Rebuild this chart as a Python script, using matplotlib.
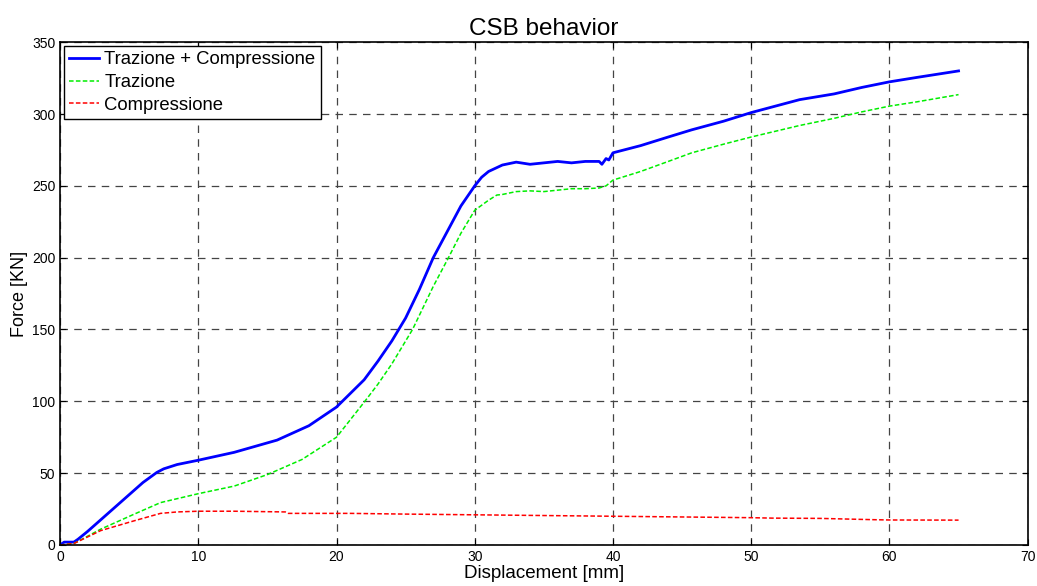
import numpy as np
import matplotlib.pyplot as plt

plt.rcParams['font.family'] = ['Liberation Sans', 'DejaVu Sans']

# Trazione + Compressione (blu)
x_tc = [0, 0.3, 1.0, 1.3, 2.0, 3.0, 4.0, 5.0, 6.0, 7.0, 7.5, 8.47, 10, 12.6, 15.7, 18, 20,
        22, 23, 24, 25, 26, 27, 28, 29, 30, 30.5, 31, 32, 33, 34, 35, 36, 37, 38, 39,
        39.2, 39.5, 39.7, 40, 42, 44, 45.7, 48, 50, 53.5, 56, 58, 60, 62, 64, 65]
y_tc = [0, 2, 2, 4, 9.5, 18, 26.5, 35, 43.5, 50.5, 53, 56, 59, 64.5, 73, 83, 96,
        115, 128, 142, 158, 178, 200, 218, 236, 250, 256, 260, 264.5, 266.5, 265, 266, 267, 266, 267, 267,
        265, 269, 268, 273, 278, 284, 289, 295, 301, 310, 314, 318.5, 322.4, 325.5, 328.5, 330]

# Trazione (verde)
x_t = [0, 1.0, 2.94, 5.35, 7.27, 10, 12.6, 15.0, 17.5, 20, 22.05, 23, 24, 25, 25.5, 26, 27,
       28.1, 29, 30, 31, 31.6, 32, 33, 34, 35, 36, 37, 38, 39, 39.5, 40, 42, 44, 45.7,
       48, 50, 53.5, 56, 58, 60, 62, 65]
y_t = [0, 1, 11, 21.4, 29.5, 35.7, 41, 49, 59.5, 75, 100, 112, 126, 142, 150, 160, 180,
       200, 217, 233, 240, 243.6, 244, 246, 246.5, 246, 247, 248, 248, 248.5, 250, 254, 260, 267, 273,
       279, 284, 292, 297, 301.5, 305.5, 308.5, 313.5]

# Compressione (rosso)
x_c = [0, 1.0, 2.94, 5.35, 7.27, 8.47, 10, 12.6, 16.3, 16.5, 21, 25, 30, 35, 40, 45, 50,
       51.5, 55, 58.9, 60, 65]
y_c = [0, 1, 10, 16.8, 22, 23, 23.5, 23.5, 23, 22, 22, 21.5, 21, 20.5, 20, 19.5, 19,
       18.7, 18.5, 17.6, 17.4, 17.3]

fig = plt.figure(figsize=(10.37, 5.86), dpi=100)
ax = fig.add_axes([0.0579, 0.070, 0.9331, 0.858])

ax.plot(x_tc, y_tc, color='#0000ff', lw=2, label='Trazione + Compressione')
ax.plot(x_t, y_t, color='#00ee00', lw=1.1, ls=(0, (3, 1.5)), label='Trazione')
ax.plot(x_c, y_c, color='#ff0000', lw=1.1, ls=(0, (3, 1.5)), label='Compressione')

ax.set_xlim(0, 70)
ax.set_ylim(0, 350)
ax.set_xticks(np.arange(0, 71, 10))
ax.set_yticks(np.arange(0, 351, 50))
ax.grid(True, color='#444444', ls=(0, (6, 5)), lw=0.9)
ax.tick_params(direction='in', top=True, right=True, length=4, labelsize=10)
for s in ax.spines.values():
    s.set_linewidth(1.2)

ax.set_title('CSB behavior', fontsize=17.5, pad=5)
ax.set_xlabel('Displacement [mm]', fontsize=13.5, labelpad=1)
ax.set_ylabel('Force [KN]', fontsize=13, labelpad=3)

leg = ax.legend(loc='upper left', fontsize=13.3, fancybox=False, framealpha=1,
                edgecolor='black', borderaxespad=0.2, handlelength=1.6,
                borderpad=0.3, labelspacing=0.3, handletextpad=0.3)
leg.get_frame().set_linewidth(1.0)

fig.savefig('out.png', dpi=100)
